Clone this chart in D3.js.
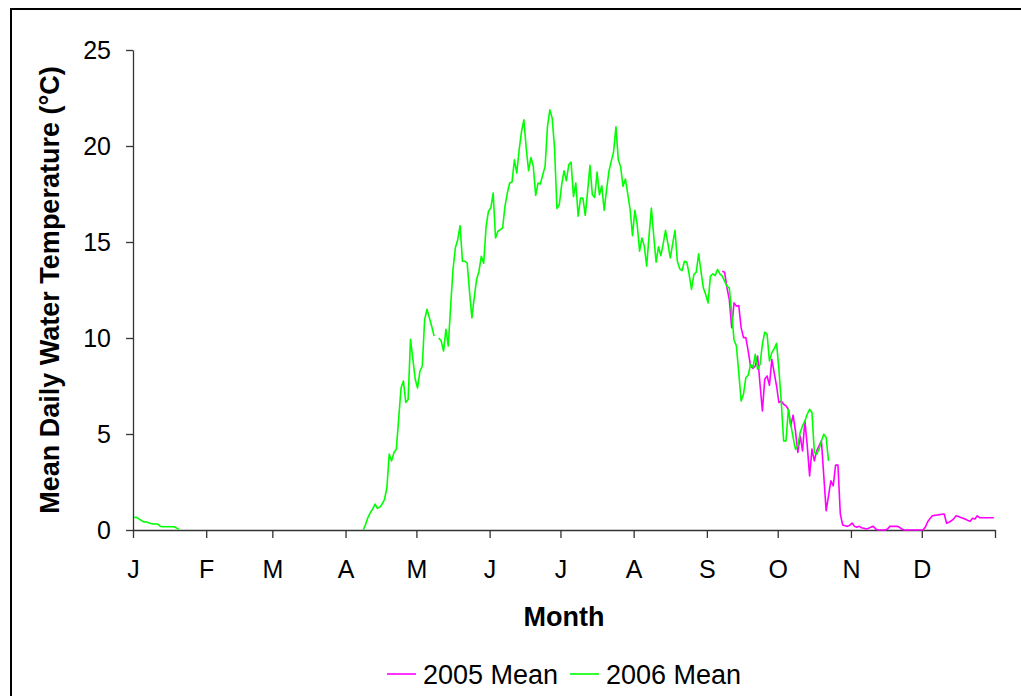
<!DOCTYPE html>
<html>
<head>
<meta charset="utf-8">
<script src="https://cdn.jsdelivr.net/npm/d3@7"></script>
<style>
  body { margin: 0; background: #fff; }
  svg text { font-family: Arial, "Liberation Sans", sans-serif; fill: #000; }
</style>
</head>
<body>
<svg id="chart" width="1021" height="696"></svg>
<script>
// month tick positions (day of year) and labels
var monthStarts = [0, 31, 59, 90, 120, 151, 181, 212, 243, 273, 304, 334, 365];
var monthLabels = ["J", "F", "M", "A", "M", "J", "J", "A", "S", "O", "N", "D", ""];
var yTicks = [0, 5, 10, 15, 20, 25];

// 2006 mean, early January (starts day 0)
var mean2006Jan = [0.66, 0.66, 0.58, 0.5, 0.42, 0.43, 0.38, 0.34, 0.31, 0.31,
  0.31, 0.2, 0.17, 0.17, 0.17, 0.17, 0.17, 0.17, 0.1, 0.03];
var mean2006JanStart = 0;

// 2006 mean, spring to autumn (starts day 97), null = missing day
var mean2006 = [0, 0.3, 0.66, 0.9, 1.1, 1.35, 1.13, 1.18, 1.35, 1.6,
  2.2, 3.95, 3.6, 4.04, 4.2, 5.8, 7.4, 7.76, 6.64, 6.8,
  9.93, 8.9, 7.85, 7.4, 8.28, 8.54, 10.97, 11.5, 11.05, 10.6,
  10.1, null, 10.0, 9.84, 9.32, 10.45, 9.58, 11.66, 13.57, 14.7,
  15.12, 15.85, 14.0, 14.0, 13.9, 12.4, 11.05, 12.1, 13.05, 13.48,
  14.26, 13.9, 15.8, 16.6, 16.77, 17.55, 15.21, 15.56, 15.64, 15.73,
  16.86, 17.55, 18.07, 18.12, 19.28, 18.59, 19.8, 20.75, 21.36, 19.89,
  18.71, 19.4, 18.94, 17.43, 18.07, 18.02, 18.5, 18.94, 21.01, 21.88,
  21.45, 19.89, 16.74, 16.94, 17.98, 18.71, 18.19, 19.02, 19.16, 17.37,
  18.07, 16.34, 17.29, 17.29, 16.39, 17.64, 18.99, 17.46, 17.32, 18.64,
  17.46, 17.93, 16.65, 17.7, 18.67, 19.2, 19.71, 21.0, 19.28, 18.9,
  17.9, 18.28, 17.5, 16.68, 15.33, 16.65, 15.9, 14.52, 15.21, 14.78,
  13.74, 15.3, 16.77, 15.3, 13.95, 14.75, 14.29, 14.9, 15.61, 14.9,
  14.17, 14.9, 15.61, 14.0, 13.6, 13.51, 14.0, 13.95, 13.31, 12.53,
  13.31, 13.43, 14.38, 13.48, 12.61, 12.27, 11.83, 13.22, 13.34, 13.25,
  13.57, 13.34, 13.22, 12.96, 12.7, 12.6, 11.3, 9.9, 9.58, 8.2,
  6.72, 7.07, 7.94, 8.06, 8.63, 8.46, 9.15, 8.37, 8.63, 9.67,
  10.31, 10.19, 8.8, 9.24, 9.44, 9.72, 8.37, 6.64, 4.64, 4.64,
  6.29, 5.51, 4.82, 4.21, 4.38, 5.08, 5.42, 5.68, 6.03, 6.29,
  6.12, 4.04, 3.95, 4.21, 4.64, 4.99, 4.82, 3.6];
var mean2006Start = 97;

// 2005 mean, September to December (starts day 249)
var mean2005 = [13.48, 13.43, 12.61, 12.0, 10.54, 11.83, 11.66, 11.69, 10.54, 10.02,
  10.02, 9.32, 8.54, 8.42, 8.54, 9.06, 7.59, 6.2, 7.85, 8.02,
  7.54, 8.89, 8.2, 7.5, 6.64, 6.72, 6.55, 6.46, 6.29, 5.42,
  5.98, 5.16, 4.04, 4.9, 4.12, 5.68, 4.38, 2.82, 4.21, 3.6,
  4.12, 4.38, 4.64, 2.82, 1.0, 1.78, 2.56, 2.3, 3.38, 3.38,
  0.83, 0.26, 0.22, 0.19, 0.25, 0.36, 0.19, 0.14, 0.19, 0.12,
  0.09, 0.05, 0.09, 0.15, 0.19, 0.05, 0, 0, 0, 0,
  0.05, 0.19, 0.19, 0.19, 0.19, 0.15, 0.05, 0, 0, 0,
  0, 0, 0, 0, 0, 0, 0.15, 0.43, 0.6, 0.74,
  0.76, 0.78, 0.8, 0.82, 0.83, 0.35, 0.4, 0.48, 0.58, 0.74,
  0.7, 0.65, 0.61, 0.56, 0.5, 0.45, 0.61, 0.57, 0.74, 0.64,
  0.64, 0.64, 0.64, 0.64, 0.64, 0.64];
var mean2005Start = 249;

var color2005 = "#ff00ff";
var color2006 = "#00ff00";

function toPoints(values, start) {
    return values.map(function(v, i) { return { day: start + i, value: v }; });
}

var svg = d3.select("#chart");

// outer chart frame (only top and left edges fall inside the picture)
svg.append("rect")
    .attr("x", 11).attr("y", 9)
    .attr("width", 1100).attr("height", 800)
    .attr("fill", "none")
    .attr("stroke", "#000")
    .attr("stroke-width", 2);

var x = d3.scaleLinear().domain([0, 365]).range([133, 995]);
var y = d3.scaleLinear().domain([0, 25]).range([530, 50]);

// y axis
var yAxis = svg.append("g")
    .attr("transform", "translate(133,0)")
    .call(d3.axisLeft(y).tickValues(yTicks).tickSize(7).tickSizeOuter(0).tickPadding(15));
yAxis.selectAll("text").style("font-size", "25px");

// x axis
var xAxis = svg.append("g")
    .attr("transform", "translate(0,530)")
    .call(d3.axisBottom(x).tickValues(monthStarts).tickSize(8).tickSizeOuter(0).tickPadding(22)
        .tickFormat(function(d, i) { return monthLabels[i]; }));
xAxis.selectAll("text").style("font-size", "25px");
svg.selectAll(".domain, .tick line").attr("stroke", "#333").attr("stroke-width", 1.3);

// lines
var line = d3.line()
    .defined(function(d) { return d.value !== null; })
    .x(function(d) { return x(d.day + 0.5); })
    .y(function(d) { return y(d.value); });

var series = [
    { points: toPoints(mean2005, mean2005Start), color: color2005 },
    { points: toPoints(mean2006Jan, mean2006JanStart), color: color2006 },
    { points: toPoints(mean2006, mean2006Start), color: color2006 }
];

svg.selectAll(".series")
    .data(series)
    .enter()
    .append("path")
    .attr("class", "series")
    .attr("d", function(d) { return line(d.points); })
    .attr("fill", "none")
    .attr("stroke", function(d) { return d.color; })
    .attr("stroke-width", 1.6)
    .attr("stroke-linejoin", "round");

// axis titles
svg.append("text")
    .attr("x", 564).attr("y", 626)
    .attr("text-anchor", "middle")
    .style("font-size", "27px").style("font-weight", "bold")
    .text("Month");

svg.append("text")
    .attr("transform", "translate(59,290) rotate(-90)")
    .attr("text-anchor", "middle")
    .style("font-size", "27px").style("font-weight", "bold")
    .text("Mean Daily Water Temperature (°C)");

// legend
var legendItems = [
    { label: "2005 Mean", color: color2005, x: 387 },
    { label: "2006 Mean", color: color2006, x: 570 }
];
var legend = svg.selectAll(".legend")
    .data(legendItems)
    .enter()
    .append("g")
    .attr("class", "legend")
    .attr("transform", function(d) { return "translate(" + d.x + ",674)"; });
legend.append("line")
    .attr("x1", 0).attr("x2", 29)
    .attr("stroke", function(d) { return d.color; })
    .attr("stroke-width", 1.6);
legend.append("text")
    .attr("x", 36).attr("y", 10)
    .style("font-size", "27px")
    .text(function(d) { return d.label; });
</script>
</body>
</html>
